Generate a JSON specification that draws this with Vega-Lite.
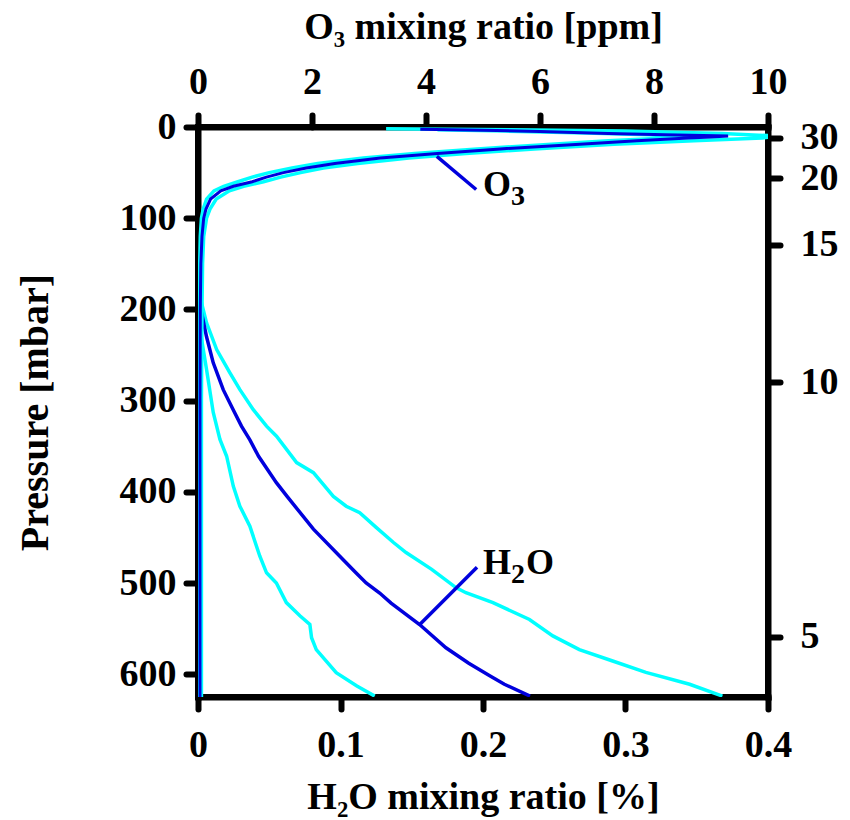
{
  "$schema": "https://vega.github.io/schema/vega-lite/v6.json",
  "width": 570,
  "height": 570,
  "autosize": "none",
  "padding": {"left": 198, "top": 127, "right": 82, "bottom": 123},
  "background": "white",
  "config": {
    "view": {"stroke": "black", "strokeWidth": 6},
    "axis": {
      "domainColor": "black", "domainWidth": 6, "domainCap": "square",
      "tickColor": "black", "tickWidth": 6, "tickSize": 12, "tickCap": "round",
      "labelFont": "Liberation Serif", "labelFontWeight": "bold", "labelFontSize": 38, "labelColor": "black", "labelPadding": 14,
      "titleFont": "Liberation Serif", "titleFontWeight": "bold", "titleFontSize": 38, "titleColor": "black",
      "grid": false, "labelFlush": false, "labelOverlap": false
    }
  },
  "datasets": {
    "h2o": [
      {"curve": "mean", "p": 185, "v": 0},
      {"curve": "mean", "p": 200, "v": 0.002},
      {"curve": "mean", "p": 230, "v": 0.006},
      {"curve": "mean", "p": 258.6, "v": 0.0107},
      {"curve": "mean", "p": 288, "v": 0.0177},
      {"curve": "mean", "p": 310, "v": 0.0247},
      {"curve": "mean", "p": 328, "v": 0.0305},
      {"curve": "mean", "p": 343, "v": 0.0364},
      {"curve": "mean", "p": 361, "v": 0.0425},
      {"curve": "mean", "p": 390, "v": 0.055},
      {"curve": "mean", "p": 405, "v": 0.0625},
      {"curve": "mean", "p": 441, "v": 0.081},
      {"curve": "mean", "p": 470.6, "v": 0.0995},
      {"curve": "mean", "p": 489, "v": 0.111},
      {"curve": "mean", "p": 500, "v": 0.118},
      {"curve": "mean", "p": 511, "v": 0.1275},
      {"curve": "mean", "p": 522, "v": 0.1355},
      {"curve": "mean", "p": 545.5, "v": 0.1555},
      {"curve": "mean", "p": 571, "v": 0.174},
      {"curve": "mean", "p": 588, "v": 0.19},
      {"curve": "mean", "p": 602, "v": 0.205},
      {"curve": "mean", "p": 611, "v": 0.215},
      {"curve": "mean", "p": 624, "v": 0.233},
      {"curve": "high", "p": 170, "v": 0},
      {"curve": "high", "p": 190, "v": 0.002},
      {"curve": "high", "p": 214.7, "v": 0.006},
      {"curve": "high", "p": 244, "v": 0.0131},
      {"curve": "high", "p": 269.5, "v": 0.0224},
      {"curve": "high", "p": 288, "v": 0.0294},
      {"curve": "high", "p": 310, "v": 0.0388},
      {"curve": "high", "p": 328, "v": 0.0481},
      {"curve": "high", "p": 339, "v": 0.0551},
      {"curve": "high", "p": 368, "v": 0.0692},
      {"curve": "high", "p": 379, "v": 0.081},
      {"curve": "high", "p": 405, "v": 0.095},
      {"curve": "high", "p": 415.8, "v": 0.104},
      {"curve": "high", "p": 423, "v": 0.1135},
      {"curve": "high", "p": 439, "v": 0.125},
      {"curve": "high", "p": 455.6, "v": 0.1372},
      {"curve": "high", "p": 466.6, "v": 0.146},
      {"curve": "high", "p": 485, "v": 0.164},
      {"curve": "high", "p": 505, "v": 0.181},
      {"curve": "high", "p": 510.7, "v": 0.188},
      {"curve": "high", "p": 521.5, "v": 0.207},
      {"curve": "high", "p": 540, "v": 0.2326},
      {"curve": "high", "p": 558, "v": 0.249},
      {"curve": "high", "p": 573, "v": 0.2676},
      {"curve": "high", "p": 585.5, "v": 0.291},
      {"curve": "high", "p": 598, "v": 0.3143},
      {"curve": "high", "p": 611, "v": 0.345},
      {"curve": "high", "p": 624, "v": 0.368},
      {"curve": "low", "p": 195, "v": 0},
      {"curve": "low", "p": 222, "v": 0.0014},
      {"curve": "low", "p": 266, "v": 0.006},
      {"curve": "low", "p": 313, "v": 0.0107},
      {"curve": "low", "p": 342.5, "v": 0.0154},
      {"curve": "low", "p": 361, "v": 0.0201},
      {"curve": "low", "p": 394, "v": 0.0248},
      {"curve": "low", "p": 415.8, "v": 0.0294},
      {"curve": "low", "p": 437.8, "v": 0.0364},
      {"curve": "low", "p": 470.6, "v": 0.0434},
      {"curve": "low", "p": 488.8, "v": 0.0481},
      {"curve": "low", "p": 500, "v": 0.055},
      {"curve": "low", "p": 521.5, "v": 0.062},
      {"curve": "low", "p": 536, "v": 0.0715},
      {"curve": "low", "p": 545.5, "v": 0.0785},
      {"curve": "low", "p": 560, "v": 0.0797},
      {"curve": "low", "p": 573, "v": 0.083},
      {"curve": "low", "p": 598.4, "v": 0.097},
      {"curve": "low", "p": 613, "v": 0.1115},
      {"curve": "low", "p": 624, "v": 0.124}
    ],
    "o3": [
      {"curve": "mean", "p": 2.5, "v": 3.9},
      {"curve": "mean", "p": 3.5, "v": 5.0},
      {"curve": "mean", "p": 5, "v": 6.0},
      {"curve": "mean", "p": 7, "v": 7.2},
      {"curve": "mean", "p": 8.5, "v": 8.2},
      {"curve": "mean", "p": 9.8, "v": 9.3},
      {"curve": "mean", "p": 11, "v": 9.0},
      {"curve": "mean", "p": 12, "v": 8.6},
      {"curve": "mean", "p": 15, "v": 7.7},
      {"curve": "mean", "p": 19, "v": 6.7},
      {"curve": "mean", "p": 24, "v": 5.3},
      {"curve": "mean", "p": 29, "v": 4.2},
      {"curve": "mean", "p": 34, "v": 3.2},
      {"curve": "mean", "p": 40, "v": 2.4},
      {"curve": "mean", "p": 45, "v": 1.9},
      {"curve": "mean", "p": 50, "v": 1.5},
      {"curve": "mean", "p": 55, "v": 1.2},
      {"curve": "mean", "p": 60, "v": 0.95},
      {"curve": "mean", "p": 65, "v": 0.62},
      {"curve": "mean", "p": 70, "v": 0.4},
      {"curve": "mean", "p": 79, "v": 0.22},
      {"curve": "mean", "p": 90, "v": 0.14},
      {"curve": "mean", "p": 100, "v": 0.1},
      {"curve": "mean", "p": 120, "v": 0.07},
      {"curve": "mean", "p": 150, "v": 0.05},
      {"curve": "mean", "p": 200, "v": 0.04},
      {"curve": "mean", "p": 300, "v": 0.035},
      {"curve": "mean", "p": 625, "v": 0.035},
      {"curve": "high", "p": 2, "v": 3.3},
      {"curve": "high", "p": 3, "v": 5.5},
      {"curve": "high", "p": 4.5, "v": 7.5},
      {"curve": "high", "p": 7, "v": 9.2},
      {"curve": "high", "p": 10, "v": 10.2},
      {"curve": "high", "p": 12, "v": 9.9},
      {"curve": "high", "p": 15, "v": 8.7},
      {"curve": "high", "p": 19, "v": 7.3},
      {"curve": "high", "p": 24, "v": 5.9},
      {"curve": "high", "p": 29, "v": 4.7},
      {"curve": "high", "p": 34, "v": 3.7},
      {"curve": "high", "p": 40, "v": 2.8},
      {"curve": "high", "p": 45, "v": 2.2},
      {"curve": "high", "p": 50, "v": 1.8},
      {"curve": "high", "p": 55, "v": 1.45},
      {"curve": "high", "p": 60, "v": 1.15},
      {"curve": "high", "p": 65, "v": 0.8},
      {"curve": "high", "p": 70, "v": 0.55},
      {"curve": "high", "p": 79, "v": 0.32},
      {"curve": "high", "p": 90, "v": 0.21},
      {"curve": "high", "p": 100, "v": 0.15},
      {"curve": "high", "p": 120, "v": 0.1},
      {"curve": "high", "p": 150, "v": 0.08},
      {"curve": "high", "p": 200, "v": 0.07},
      {"curve": "high", "p": 300, "v": 0.06},
      {"curve": "high", "p": 625, "v": 0.06},
      {"curve": "low", "p": 3, "v": 4.2},
      {"curve": "low", "p": 4.5, "v": 5.4},
      {"curve": "low", "p": 6.5, "v": 6.8},
      {"curve": "low", "p": 8.5, "v": 7.9},
      {"curve": "low", "p": 10.3, "v": 8.8},
      {"curve": "low", "p": 12, "v": 8.2},
      {"curve": "low", "p": 15, "v": 7.2},
      {"curve": "low", "p": 19, "v": 6.2},
      {"curve": "low", "p": 24, "v": 4.9},
      {"curve": "low", "p": 29, "v": 3.8},
      {"curve": "low", "p": 34, "v": 2.9},
      {"curve": "low", "p": 40, "v": 2.1},
      {"curve": "low", "p": 45, "v": 1.65},
      {"curve": "low", "p": 50, "v": 1.25},
      {"curve": "low", "p": 55, "v": 0.95},
      {"curve": "low", "p": 60, "v": 0.7},
      {"curve": "low", "p": 65, "v": 0.45},
      {"curve": "low", "p": 70, "v": 0.28},
      {"curve": "low", "p": 79, "v": 0.15},
      {"curve": "low", "p": 90, "v": 0.09},
      {"curve": "low", "p": 100, "v": 0.06},
      {"curve": "low", "p": 120, "v": 0.04},
      {"curve": "low", "p": 150, "v": 0.03},
      {"curve": "low", "p": 200, "v": 0.02},
      {"curve": "low", "p": 625, "v": 0.02}
    ],
    "h2oNote": [
      {"v": 0.1558, "p": 545.2, "v2": 0.1958, "p2": 482.7, "main": "H", "sub": "2", "tail": "O", "tv": 0.2, "tp": 490}
    ],
    "o3Note": [
      {"v": 4.19, "p": 32.3, "v2": 4.88, "p2": 68.5, "main": "O", "sub": "3", "tail": "", "tv": 5.0, "tp": 76}
    ]
  },
  "layer": [
    {
      "encoding": {
        "y": {"field": "p", "type": "quantitative",
              "scale": {"domain": [0, 625], "reverse": true, "nice": false, "zero": false},
              "axis": {"orient": "left", "values": [0, 100, 200, 300, 400, 500, 600], "title": "Pressure [mbar]", "titleFontSize": 40, "labelPadding": 10, "titlePadding": 64}},
        "x": {"field": "v", "type": "quantitative",
              "scale": {"domain": [0, 0.4], "nice": false, "zero": false},
              "axis": {"orient": "bottom", "values": [0, 0.1, 0.2, 0.3, 0.4], "format": "~g", "title": "H₂O mixing ratio [%]", "labelPadding": 17, "titlePadding": 14}}
      },
      "layer": [
        {"data": {"name": "h2o"}, "transform": [{"filter": "datum.curve != 'mean'"}],
         "mark": {"type": "line", "color": "#00ffff", "strokeWidth": 3.5, "clip": true},
         "encoding": {"detail": {"field": "curve", "type": "nominal"}, "order": {"field": "p", "type": "quantitative"}}},
        {"data": {"name": "h2o"}, "transform": [{"filter": "datum.curve == 'mean'"}],
         "mark": {"type": "line", "color": "#0000dd", "strokeWidth": 3.5, "clip": true},
         "encoding": {"order": {"field": "p", "type": "quantitative"}}},
        {"data": {"name": "h2oNote"},
         "mark": {"type": "rule", "color": "#0000dd", "strokeWidth": 3.5},
         "encoding": {"x2": {"field": "v2"}, "y2": {"field": "p2"}}},
        {"data": {"name": "h2oNote"},
         "mark": {"type": "text", "font": "Liberation Serif", "fontWeight": "bold", "fontSize": 36, "align": "left", "baseline": "alphabetic", "color": "black"},
         "encoding": {"x": {"field": "tv", "type": "quantitative"}, "y": {"field": "tp", "type": "quantitative"}, "text": {"field": "main"}}},
        {"data": {"name": "h2oNote"},
         "mark": {"type": "text", "font": "Liberation Serif", "fontWeight": "bold", "fontSize": 28, "align": "left", "baseline": "alphabetic", "color": "black", "dx": 28, "dy": 9},
         "encoding": {"x": {"field": "tv", "type": "quantitative"}, "y": {"field": "tp", "type": "quantitative"}, "text": {"field": "sub"}}},
        {"data": {"name": "h2oNote"},
         "mark": {"type": "text", "font": "Liberation Serif", "fontWeight": "bold", "fontSize": 36, "align": "left", "baseline": "alphabetic", "color": "black", "dx": 43},
         "encoding": {"x": {"field": "tv", "type": "quantitative"}, "y": {"field": "tp", "type": "quantitative"}, "text": {"field": "tail"}}}
      ]
    },
    {
      "encoding": {
        "y": {"field": "p", "type": "quantitative",
              "scale": {"domain": [0, 625], "reverse": true, "nice": false, "zero": false},
              "axis": {"orient": "right", "values": [12, 56, 129, 280, 559], "title": null, "labelPadding": 20,
                       "labelExpr": "datum.value == 12 ? '30' : datum.value == 56 ? '20' : datum.value == 129 ? '15' : datum.value == 280 ? '10' : '5'"}},
        "x": {"field": "v", "type": "quantitative",
              "scale": {"domain": [0, 10], "nice": false, "zero": false},
              "axis": {"orient": "top", "values": [0, 2, 4, 6, 8, 10], "title": "O₃ mixing ratio [ppm]", "titlePadding": 17}}
      },
      "layer": [
        {"data": {"name": "o3"}, "transform": [{"filter": "datum.curve != 'mean'"}],
         "mark": {"type": "line", "color": "#00ffff", "strokeWidth": 3.5, "clip": true},
         "encoding": {"detail": {"field": "curve", "type": "nominal"}, "order": {"field": "p", "type": "quantitative"}}},
        {"data": {"name": "o3"}, "transform": [{"filter": "datum.curve == 'mean'"}],
         "mark": {"type": "line", "color": "#0000dd", "strokeWidth": 3, "clip": true},
         "encoding": {"order": {"field": "p", "type": "quantitative"}}},
        {"data": {"name": "o3Note"},
         "mark": {"type": "rule", "color": "#0000dd", "strokeWidth": 3.5},
         "encoding": {"x2": {"field": "v2"}, "y2": {"field": "p2"}}},
        {"data": {"name": "o3Note"},
         "mark": {"type": "text", "font": "Liberation Serif", "fontWeight": "bold", "fontSize": 36, "align": "left", "baseline": "alphabetic", "color": "black"},
         "encoding": {"x": {"field": "tv", "type": "quantitative"}, "y": {"field": "tp", "type": "quantitative"}, "text": {"field": "main"}}},
        {"data": {"name": "o3Note"},
         "mark": {"type": "text", "font": "Liberation Serif", "fontWeight": "bold", "fontSize": 28, "align": "left", "baseline": "alphabetic", "color": "black", "dx": 28, "dy": 9},
         "encoding": {"x": {"field": "tv", "type": "quantitative"}, "y": {"field": "tp", "type": "quantitative"}, "text": {"field": "sub"}}}
      ]
    }
  ],
  "resolve": {"scale": {"x": "independent", "y": "independent"}}
}
